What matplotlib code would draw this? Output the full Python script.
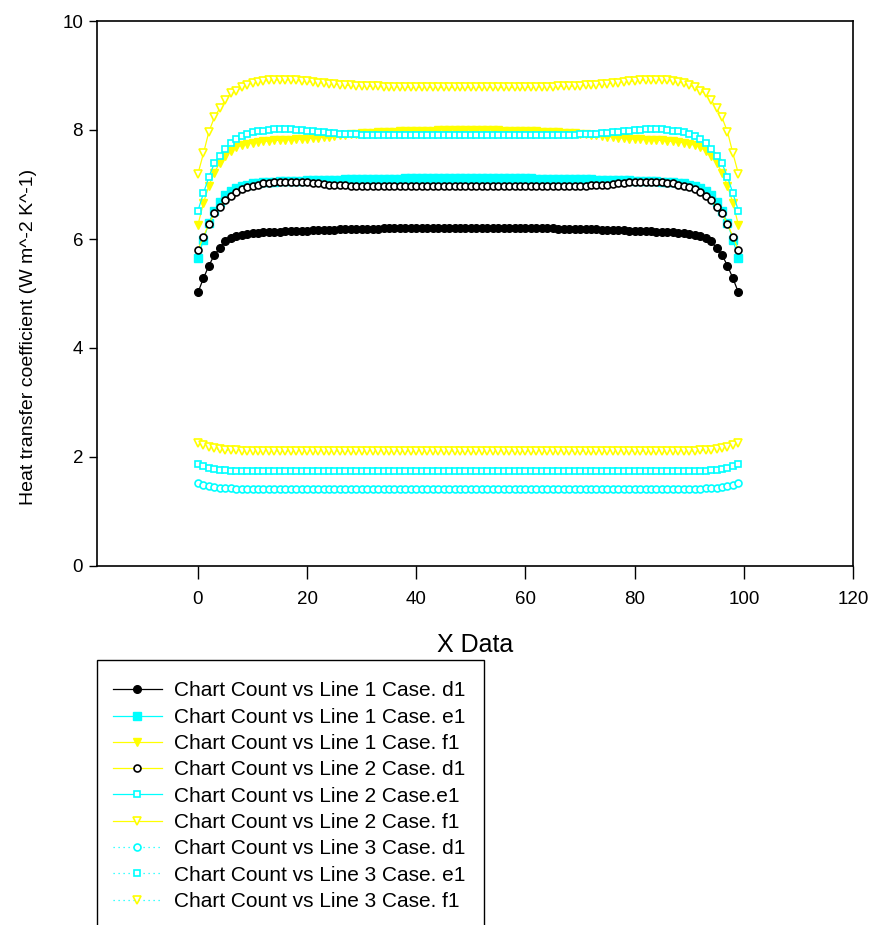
import matplotlib
matplotlib.use('Agg')
import matplotlib.pyplot as plt
from matplotlib.patches import Rectangle

plt.rcParams['font.family'] = ['Liberation Sans', 'DejaVu Sans']

# chart count 0..99
count = list(range(100))

line1_d1 = [5.02, 5.28, 5.51, 5.71, 5.83, 5.96, 6.01, 6.05, 6.08, 6.10,
            6.11, 6.11, 6.12, 6.12, 6.13, 6.13, 6.14, 6.14, 6.15, 6.15,
            6.15, 6.16, 6.16, 6.17, 6.17, 6.17, 6.18, 6.18, 6.18, 6.19,
            6.19, 6.19, 6.19, 6.19, 6.20, 6.20, 6.20, 6.20, 6.20, 6.20,
            6.20, 6.20, 6.20, 6.20, 6.20, 6.20, 6.20, 6.20, 6.20, 6.20,
            6.20, 6.20, 6.20, 6.20, 6.20, 6.20, 6.20, 6.20, 6.20, 6.20,
            6.20, 6.20, 6.20, 6.20, 6.20, 6.20, 6.19, 6.19, 6.19, 6.19,
            6.19, 6.18, 6.18, 6.18, 6.17, 6.17, 6.17, 6.16, 6.16, 6.15,
            6.15, 6.15, 6.14, 6.14, 6.13, 6.13, 6.12, 6.12, 6.11, 6.11,
            6.10, 6.08, 6.05, 6.01, 5.96, 5.83, 5.71, 5.51, 5.28, 5.02]

line1_e1 = [5.66, 5.98, 6.30, 6.52, 6.68, 6.80, 6.88, 6.94, 6.98, 7.00,
            7.02, 7.03, 7.04, 7.05, 7.05, 7.06, 7.06, 7.07, 7.07, 7.07,
            7.08, 7.08, 7.08, 7.09, 7.09, 7.09, 7.09, 7.10, 7.10, 7.10,
            7.10, 7.10, 7.11, 7.11, 7.11, 7.11, 7.11, 7.11, 7.12, 7.12,
            7.12, 7.12, 7.12, 7.12, 7.12, 7.12, 7.12, 7.12, 7.12, 7.12,
            7.12, 7.12, 7.12, 7.12, 7.12, 7.12, 7.12, 7.12, 7.12, 7.12,
            7.12, 7.12, 7.11, 7.11, 7.11, 7.11, 7.11, 7.11, 7.10, 7.10,
            7.10, 7.10, 7.10, 7.09, 7.09, 7.09, 7.09, 7.08, 7.08, 7.08,
            7.07, 7.07, 7.07, 7.06, 7.06, 7.05, 7.05, 7.04, 7.03, 7.02,
            7.00, 6.98, 6.94, 6.88, 6.80, 6.68, 6.52, 6.30, 5.98, 5.66]

line1_f1 = [6.26, 6.66, 6.98, 7.22, 7.40, 7.53, 7.62, 7.68, 7.72, 7.75,
            7.77, 7.78, 7.79, 7.80, 7.81, 7.81, 7.82, 7.82, 7.83, 7.83,
            7.84, 7.85, 7.86, 7.87, 7.88, 7.89, 7.90, 7.91, 7.92, 7.93,
            7.94, 7.95, 7.95, 7.96, 7.96, 7.97, 7.97, 7.98, 7.98, 7.98,
            7.99, 7.99, 7.99, 7.99, 8.00, 8.00, 8.00, 8.00, 8.00, 8.00,
            8.00, 8.00, 8.00, 8.00, 8.00, 8.00, 7.99, 7.99, 7.99, 7.99,
            7.98, 7.98, 7.98, 7.97, 7.97, 7.96, 7.96, 7.95, 7.95, 7.94,
            7.93, 7.92, 7.91, 7.90, 7.89, 7.88, 7.87, 7.86, 7.85, 7.84,
            7.83, 7.83, 7.82, 7.82, 7.81, 7.81, 7.80, 7.79, 7.78, 7.77,
            7.75, 7.72, 7.68, 7.62, 7.53, 7.40, 7.22, 6.98, 6.66, 6.26]

line2_d1 = [5.80, 6.04, 6.28, 6.47, 6.59, 6.72, 6.79, 6.87, 6.91, 6.95,
            6.98, 7.00, 7.02, 7.03, 7.04, 7.05, 7.05, 7.05, 7.05, 7.04,
            7.04, 7.03, 7.02, 7.01, 7.00, 7.00, 6.99, 6.99, 6.98, 6.98,
            6.98, 6.97, 6.97, 6.97, 6.97, 6.97, 6.97, 6.97, 6.97, 6.97,
            6.97, 6.97, 6.97, 6.97, 6.97, 6.97, 6.97, 6.97, 6.97, 6.97,
            6.97, 6.97, 6.97, 6.97, 6.97, 6.97, 6.97, 6.97, 6.97, 6.97,
            6.97, 6.97, 6.97, 6.97, 6.97, 6.97, 6.97, 6.97, 6.97, 6.98,
            6.98, 6.98, 6.99, 6.99, 7.00, 7.00, 7.01, 7.02, 7.03, 7.04,
            7.04, 7.05, 7.05, 7.05, 7.05, 7.04, 7.03, 7.02, 7.00, 6.98,
            6.95, 6.91, 6.87, 6.79, 6.72, 6.59, 6.47, 6.28, 6.04, 5.80]

line2_e1 = [6.52, 6.84, 7.14, 7.39, 7.52, 7.66, 7.76, 7.83, 7.89, 7.93,
            7.96, 7.98, 7.99, 8.00, 8.01, 8.01, 8.01, 8.01, 8.00, 8.00,
            7.99, 7.98, 7.97, 7.96, 7.95, 7.94, 7.93, 7.93, 7.92, 7.92,
            7.91, 7.91, 7.91, 7.90, 7.90, 7.90, 7.90, 7.90, 7.90, 7.90,
            7.90, 7.90, 7.90, 7.90, 7.90, 7.90, 7.90, 7.90, 7.90, 7.90,
            7.90, 7.90, 7.90, 7.90, 7.90, 7.90, 7.90, 7.90, 7.90, 7.90,
            7.90, 7.90, 7.90, 7.90, 7.90, 7.90, 7.90, 7.91, 7.91, 7.91,
            7.92, 7.92, 7.93, 7.93, 7.94, 7.95, 7.96, 7.97, 7.98, 7.99,
            8.00, 8.00, 8.01, 8.01, 8.01, 8.01, 8.00, 7.99, 7.98, 7.96,
            7.93, 7.89, 7.83, 7.76, 7.66, 7.52, 7.39, 7.14, 6.84, 6.52]

line2_f1 = [7.20, 7.57, 7.97, 8.23, 8.40, 8.55, 8.67, 8.72, 8.78, 8.83,
            8.86, 8.88, 8.90, 8.91, 8.92, 8.92, 8.92, 8.92, 8.91, 8.90,
            8.89, 8.88, 8.87, 8.86, 8.85, 8.84, 8.83, 8.82, 8.82, 8.81,
            8.81, 8.80, 8.80, 8.80, 8.79, 8.79, 8.79, 8.79, 8.79, 8.78,
            8.78, 8.78, 8.78, 8.78, 8.78, 8.78, 8.78, 8.78, 8.78, 8.78,
            8.78, 8.78, 8.78, 8.78, 8.78, 8.78, 8.78, 8.78, 8.78, 8.78,
            8.78, 8.79, 8.79, 8.79, 8.79, 8.79, 8.80, 8.80, 8.80, 8.81,
            8.81, 8.82, 8.82, 8.83, 8.84, 8.85, 8.86, 8.87, 8.88, 8.89,
            8.90, 8.91, 8.92, 8.92, 8.92, 8.92, 8.91, 8.90, 8.88, 8.86,
            8.83, 8.78, 8.72, 8.67, 8.55, 8.40, 8.23, 7.97, 7.57, 7.20]

line3_d1 = [1.52, 1.49, 1.47, 1.45, 1.44, 1.43, 1.43, 1.42, 1.42, 1.42,
            1.42, 1.42, 1.42, 1.42, 1.42, 1.42, 1.42, 1.42, 1.42, 1.42,
            1.42, 1.42, 1.42, 1.42, 1.42, 1.42, 1.42, 1.42, 1.42, 1.42,
            1.42, 1.42, 1.42, 1.42, 1.42, 1.42, 1.42, 1.42, 1.42, 1.42,
            1.42, 1.42, 1.42, 1.42, 1.42, 1.42, 1.42, 1.42, 1.42, 1.42,
            1.42, 1.42, 1.42, 1.42, 1.42, 1.42, 1.42, 1.42, 1.42, 1.42,
            1.42, 1.42, 1.42, 1.42, 1.42, 1.42, 1.42, 1.42, 1.42, 1.42,
            1.42, 1.42, 1.42, 1.42, 1.42, 1.42, 1.42, 1.42, 1.42, 1.42,
            1.42, 1.42, 1.42, 1.42, 1.42, 1.42, 1.42, 1.42, 1.42, 1.42,
            1.42, 1.42, 1.42, 1.43, 1.43, 1.44, 1.45, 1.47, 1.49, 1.52]

line3_e1 = [1.87, 1.84, 1.80, 1.78, 1.77, 1.76, 1.75, 1.75, 1.74, 1.74,
            1.74, 1.74, 1.74, 1.74, 1.74, 1.74, 1.74, 1.74, 1.74, 1.74,
            1.74, 1.74, 1.74, 1.74, 1.74, 1.74, 1.74, 1.74, 1.74, 1.74,
            1.74, 1.74, 1.74, 1.74, 1.74, 1.74, 1.74, 1.74, 1.74, 1.74,
            1.74, 1.74, 1.74, 1.74, 1.74, 1.74, 1.74, 1.74, 1.74, 1.74,
            1.74, 1.74, 1.74, 1.74, 1.74, 1.74, 1.74, 1.74, 1.74, 1.74,
            1.74, 1.74, 1.74, 1.74, 1.74, 1.74, 1.74, 1.74, 1.74, 1.74,
            1.74, 1.74, 1.74, 1.74, 1.74, 1.74, 1.74, 1.74, 1.74, 1.74,
            1.74, 1.74, 1.74, 1.74, 1.74, 1.74, 1.74, 1.74, 1.74, 1.74,
            1.74, 1.74, 1.75, 1.75, 1.76, 1.77, 1.78, 1.80, 1.84, 1.87]

line3_f1 = [2.26, 2.22, 2.18, 2.16, 2.14, 2.13, 2.12, 2.12, 2.11, 2.11,
            2.11, 2.11, 2.11, 2.11, 2.11, 2.11, 2.11, 2.11, 2.11, 2.11,
            2.11, 2.11, 2.11, 2.11, 2.11, 2.11, 2.11, 2.11, 2.11, 2.11,
            2.11, 2.11, 2.11, 2.11, 2.11, 2.11, 2.11, 2.11, 2.11, 2.11,
            2.11, 2.11, 2.11, 2.11, 2.11, 2.11, 2.11, 2.11, 2.11, 2.11,
            2.11, 2.11, 2.11, 2.11, 2.11, 2.11, 2.11, 2.11, 2.11, 2.11,
            2.11, 2.11, 2.11, 2.11, 2.11, 2.11, 2.11, 2.11, 2.11, 2.11,
            2.11, 2.11, 2.11, 2.11, 2.11, 2.11, 2.11, 2.11, 2.11, 2.11,
            2.11, 2.11, 2.11, 2.11, 2.11, 2.11, 2.11, 2.11, 2.11, 2.11,
            2.11, 2.11, 2.12, 2.12, 2.13, 2.14, 2.16, 2.18, 2.22, 2.26]

labels = ['Chart Count vs Line 1 Case. d1',
          'Chart Count vs Line 1 Case. e1',
          'Chart Count vs Line 1 Case. f1',
          'Chart Count vs Line 2 Case. d1',
          'Chart Count vs Line 2 Case.e1',
          'Chart Count vs Line 2 Case. f1',
          'Chart Count vs Line 3 Case. d1',
          'Chart Count vs Line 3 Case. e1',
          'Chart Count vs Line 3 Case. f1']

fig = plt.figure(figsize=(8.72, 9.25), dpi=100)
ax = fig.add_axes([97 / 872, 1 - 566 / 925, (853 - 97) / 872, (566 - 21) / 925])

cy = '#00ffff'
ye = '#ffff00'
lw = 0.9
dots = (0, (1, 3))

ax.plot(count, line1_d1, color='black', lw=lw, marker='o', ms=5.5,
        mfc='black', mec='black', label=labels[0])
ax.plot(count, line1_e1, color=cy, lw=lw, marker='s', ms=5.5,
        mfc=cy, mec=cy, label=labels[1])
ax.plot(count, line1_f1, color=ye, lw=lw, marker='v', ms=6,
        mfc=ye, mec=ye, label=labels[2])
ax.plot(count, line2_d1, color=ye, lw=lw, marker='o', ms=5,
        mfc='white', mec='black', mew=1.2, label=labels[3])
ax.plot(count, line2_e1, color=cy, lw=lw, marker='s', ms=5,
        mfc='white', mec=cy, mew=1.2, label=labels[4])
ax.plot(count, line2_f1, color=ye, lw=lw, marker='v', ms=6,
        mfc='white', mec=ye, mew=1.2, label=labels[5])
ax.plot(count, line3_d1, color=cy, lw=lw, ls=dots, marker='o', ms=5,
        mfc='white', mec=cy, mew=1.2, label=labels[6])
ax.plot(count, line3_e1, color=cy, lw=lw, ls=dots, marker='s', ms=5,
        mfc='white', mec=cy, mew=1.2, label=labels[7])
ax.plot(count, line3_f1, color=cy, lw=lw, ls=dots, marker='v', ms=6,
        mfc='white', mec=ye, mew=1.2, label=labels[8])

ax.set_xlim(-18.5, 120)
ax.set_ylim(0, 10)
ax.set_xticks([0, 20, 40, 60, 80, 100, 120])
ax.set_yticks([0, 2, 4, 6, 8, 10])
ax.tick_params(axis='x', direction='out', length=9, width=1, pad=9, labelsize=13.5)
ax.tick_params(axis='y', direction='out', length=6, width=1, pad=4, labelsize=13.5)
for sp in ax.spines.values():
    sp.set_linewidth(1.2)

ax.set_xlabel('X Data', fontsize=18, labelpad=18)
ax.set_ylabel('Heat transfer coefficient (W m^-2 K^-1)', fontsize=14)
ax.yaxis.set_label_coords(-0.080, 0.42)

# legend box runs off the bottom of the figure
fig.patches.append(Rectangle((97 / 872, 1 - 935 / 925), (484 - 97) / 872, (935 - 660) / 925,
                             transform=fig.transFigure, fill=False,
                             edgecolor='black', linewidth=1.0))
leg = fig.legend(loc='upper left', bbox_to_anchor=(113 / 872, 1 - 681.5 / 925),
                 borderaxespad=0, borderpad=0, fontsize=15, handlelength=2.35,
                 handletextpad=0.6, labelspacing=0.35, frameon=False)

fig.savefig('out.png', dpi=100)
